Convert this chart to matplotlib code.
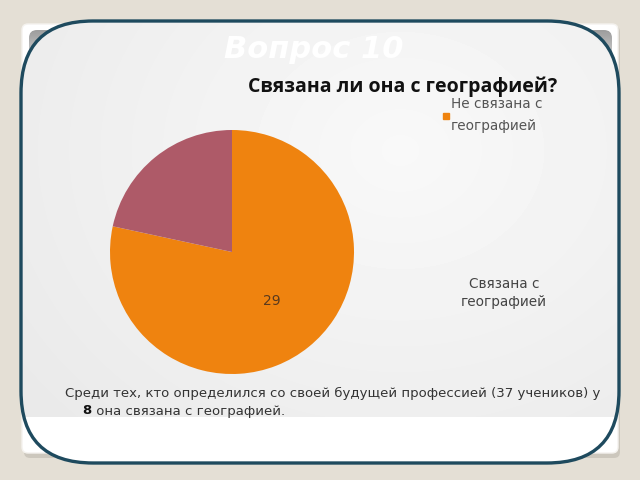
import numpy as np
import matplotlib
matplotlib.use("Agg")
import matplotlib.pyplot as plt
from matplotlib.patches import FancyBboxPatch

# ---- data ----
slide_title = "Вопрос 10"
chart_title = "Связана ли она с географией?"
labels = ["Не связана с\nгеографией", "Связана с\nгеографией"]
values = [29, 8]
colors = ["#EF830F", "#AE5A68"]
note_line1 = "Среди тех, кто определился со своей будущей профессией (37 учеников) у"
note_bold = "8"
note_line2 = " она связана с географией."

W, H = 640, 480
BG = "#E4DFD5"


def py(y):
    # screen y (from top) -> data y (from bottom)
    return H - y


fig = plt.figure(figsize=(6.4, 4.8), dpi=100, facecolor=BG)
ax = fig.add_axes([0, 0, 1, 1])
ax.set_facecolor(BG)

# card shadow + white card
shadow = FancyBboxPatch((24, py(458)), 596, 432, boxstyle="round,pad=0,rounding_size=6",
                        fc="#BDB8AE", ec="none", alpha=0.6, zorder=1)
ax.add_patch(shadow)
card = FancyBboxPatch((22, py(453)), 596, 429, boxstyle="round,pad=0,rounding_size=6",
                      fc="white", ec="#F4F2EE", lw=1, zorder=2)
ax.add_patch(card)

# gray header panel with vertical gradient
panel = FancyBboxPatch((29, py(416)), 583, 386, boxstyle="round,pad=0,rounding_size=8",
                       fc="none", ec="none", zorder=3)
ax.add_patch(panel)
yy = np.linspace(0, 1, 200)[:, None]
g = np.clip(0.62 + (0.93 - 0.62) * (yy * 386 / 45), 0.62, 0.93)
grad = np.repeat(g, 10, axis=1)
im = ax.imshow(grad, cmap="gray", vmin=0, vmax=1, extent=(29, 612, py(416), py(30)),
               origin="upper", aspect="auto", zorder=3)
im.set_clip_path(panel)

# light fill inside the rounded outline
X, Y = np.meshgrid(np.arange(W), np.arange(H))
d = np.sqrt(((X - 400) / 400.0) ** 2 + ((Y - 150) / 330.0) ** 2)
light = np.clip(0.975 - 0.05 * d, 0.915, 0.975)
light[Y > 416] = 1.0
outline = FancyBboxPatch((21, py(463)), 598, 442, boxstyle="round,pad=0,rounding_size=72",
                         fc="none", ec="#1E4A5E", lw=2.4, zorder=6)
ax.add_patch(outline)
im2 = ax.imshow(light, cmap="gray", vmin=0, vmax=1, extent=(0, W, 0, H),
                origin="upper", aspect="auto", zorder=4)
im2.set_clip_path(outline)

# slide title (white on light background)
ax.text(314, py(50), slide_title, color="white", fontsize=22, fontweight="bold",
        fontstyle="italic", ha="center", va="center", zorder=7)

# chart title
ax.text(403, py(87), chart_title, family=["Open Sans", "DejaVu Sans"], fontsize=14,
        fontweight="bold", color="#111111", ha="center", va="center", zorder=7)

# pie
total = sum(values)
wedges, texts, autotexts = ax.pie(
    values, colors=colors, startangle=90, counterclock=False,
    center=(232, py(252)), radius=122, frame=True,
    autopct=lambda p: f"{round(p * total / 100)}" if p > 50 else "",
    pctdistance=0.52, wedgeprops=dict(linewidth=0),
    textprops=dict(color="#5A3A1E", fontsize=10))
for w in wedges:
    w.set_zorder(7)
for t in autotexts:
    t.set_zorder(8)

# legend entries
ax.plot([446], [py(116)], marker="s", ms=5, color=colors[0], ls="none", zorder=8)
ax.text(451, py(115), labels[0], fontsize=9.8, color="#555555", ha="left", va="center",
        linespacing=1.65, zorder=8)
ax.text(504, py(293), labels[1], fontsize=9.8, color="#444444", ha="center", va="center",
        linespacing=1.4, zorder=8)

# note
ax.text(65, py(393), note_line1, fontsize=9.5, color="#333333", ha="left", va="center", zorder=8)
ax.text(82, py(411), note_bold, fontsize=9.5, fontweight="bold", color="#111111",
        ha="left", va="center", zorder=8)
ax.text(92, py(411), note_line2, fontsize=9.5, color="#333333", ha="left", va="center", zorder=8)

ax.set_xlim(0, W)
ax.set_ylim(0, H)
ax.set_aspect("auto")
ax.axis("off")

fig.savefig("out.png", dpi=100, facecolor=BG)
